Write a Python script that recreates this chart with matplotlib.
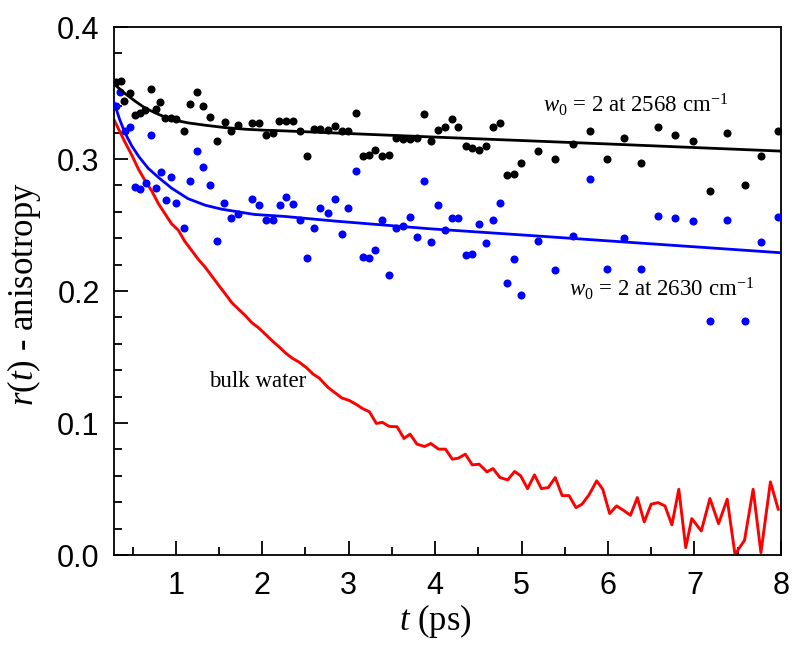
import matplotlib
matplotlib.use("Agg")
import matplotlib.pyplot as plt
from matplotlib.ticker import MultipleLocator, FormatStrFormatter

# ---------------- data ----------------
black_t = [0.31, 0.37, 0.40, 0.47, 0.53, 0.58, 0.64, 0.71, 0.77, 0.82,
           0.88, 0.94, 1.00, 1.09, 1.16, 1.25, 1.32, 1.40, 1.48, 1.57,
           1.64, 1.72, 1.88, 1.96, 2.04, 2.12, 2.19, 2.28, 2.36, 2.44,
           2.52, 2.60, 2.67, 2.76, 2.84, 2.92, 2.99, 3.08, 3.16, 3.23,
           3.31, 3.39, 3.47, 3.55, 3.63, 3.71, 3.79, 3.87, 3.95, 4.03,
           4.11, 4.20, 4.27, 4.36, 4.43, 4.51, 4.59, 4.67, 4.75, 4.83,
           4.91, 4.99, 5.19, 5.39, 5.59, 5.79, 5.99, 6.19, 6.38, 6.58,
           6.78, 6.98, 7.18, 7.38, 7.58, 7.77, 7.97]
black_r = [0.358, 0.359, 0.344, 0.350, 0.333, 0.335, 0.337, 0.353, 0.338, 0.343,
           0.331, 0.331, 0.330, 0.321, 0.342, 0.351, 0.340, 0.332, 0.314, 0.328,
           0.321, 0.326, 0.327, 0.327, 0.318, 0.320, 0.329, 0.329, 0.329, 0.321,
           0.302, 0.323, 0.323, 0.322, 0.325, 0.321, 0.321, 0.335, 0.302, 0.303,
           0.307, 0.302, 0.303, 0.316, 0.315, 0.315, 0.316, 0.334, 0.314, 0.322,
           0.324, 0.330, 0.324, 0.310, 0.308, 0.307, 0.310, 0.324, 0.327, 0.288,
           0.289, 0.297, 0.306, 0.300, 0.311, 0.321, 0.300, 0.316, 0.297, 0.324,
           0.318, 0.314, 0.276, 0.320, 0.280, 0.302, 0.321]

blue_t = [0.31, 0.35, 0.41, 0.47, 0.53, 0.58, 0.65, 0.71, 0.77, 0.83,
          0.89, 0.94, 1.00, 1.09, 1.16, 1.25, 1.32, 1.40, 1.48, 1.56,
          1.64, 1.72, 1.88, 1.96, 2.04, 2.12, 2.20, 2.28, 2.36, 2.44,
          2.52, 2.60, 2.67, 2.76, 2.84, 2.92, 2.99, 3.08, 3.16, 3.23,
          3.31, 3.39, 3.47, 3.55, 3.63, 3.71, 3.79, 3.87, 3.95, 4.03,
          4.11, 4.20, 4.27, 4.36, 4.43, 4.51, 4.59, 4.67, 4.75, 4.83,
          4.91, 4.99, 5.19, 5.39, 5.59, 5.79, 5.99, 6.19, 6.38, 6.58,
          6.78, 6.98, 7.18, 7.38, 7.58, 7.77, 7.97]
blue_r = [0.340, 0.351, 0.321, 0.324, 0.279, 0.277, 0.282, 0.318, 0.278, 0.290,
          0.269, 0.286, 0.267, 0.248, 0.283, 0.306, 0.294, 0.280, 0.238, 0.267,
          0.255, 0.258, 0.270, 0.265, 0.254, 0.254, 0.265, 0.271, 0.266, 0.254,
          0.225, 0.248, 0.263, 0.259, 0.270, 0.243, 0.263, 0.291, 0.226, 0.225,
          0.231, 0.254, 0.212, 0.248, 0.249, 0.256, 0.241, 0.283, 0.237, 0.265,
          0.246, 0.255, 0.255, 0.227, 0.228, 0.251, 0.236, 0.254, 0.267, 0.206,
          0.224, 0.197, 0.238, 0.216, 0.242, 0.285, 0.217, 0.240, 0.217, 0.257,
          0.255, 0.253, 0.177, 0.254, 0.177, 0.237, 0.256]

red_t = [0.29, 0.35, 0.41, 0.49, 0.57, 0.65, 0.72, 0.80, 0.88, 0.95,
         1.03, 1.10, 1.18, 1.26, 1.34, 1.42, 1.50, 1.57, 1.65, 1.73,
         1.81, 1.88, 1.96, 2.04, 2.12, 2.19, 2.27, 2.35, 2.43, 2.51,
         2.59, 2.66, 2.76, 2.84, 2.92, 3.01, 3.09, 3.16, 3.24, 3.32,
         3.39, 3.47, 3.56, 3.64, 3.71, 3.79, 3.88, 3.95, 4.04, 4.12,
         4.20, 4.27, 4.35, 4.43, 4.51, 4.60, 4.67, 4.75, 4.84, 4.92,
         4.99, 5.07, 5.15, 5.23, 5.31, 5.39, 5.47, 5.55, 5.63, 5.70,
         5.78, 5.87, 5.94, 6.02, 6.10, 6.19, 6.26, 6.34, 6.42, 6.50,
         6.58, 6.66, 6.74, 6.82, 6.90, 6.97, 7.08, 7.18, 7.28, 7.38,
         7.47, 7.58, 7.68, 7.77, 7.88, 7.97]
red_r = [0.329, 0.321, 0.313, 0.303, 0.292, 0.283, 0.276, 0.266, 0.258, 0.251,
         0.246, 0.238, 0.231, 0.224, 0.218, 0.211, 0.204, 0.198, 0.191, 0.186,
         0.181, 0.176, 0.172, 0.167, 0.162, 0.158, 0.153, 0.149, 0.146, 0.142,
         0.137, 0.134, 0.127, 0.123, 0.119, 0.117, 0.114, 0.111, 0.1085, 0.0997,
         0.1005, 0.0974, 0.0972, 0.0883, 0.0916, 0.0840, 0.0822, 0.0845, 0.0802, 0.0802,
         0.0726, 0.0734, 0.0764, 0.0683, 0.0688, 0.0630, 0.0655, 0.0587, 0.0569, 0.0633,
         0.0600, 0.0503, 0.0607, 0.0503, 0.0511, 0.0587, 0.0450, 0.0450, 0.0359, 0.0385,
         0.0455, 0.0562, 0.0498, 0.0314, 0.0372, 0.0334, 0.0301, 0.0435, 0.0251, 0.0385,
         0.0397, 0.0372, 0.0228, 0.0498, 0.0056, 0.0276, 0.0182, 0.0428, 0.0238, 0.0423,
         0.0005, 0.0111, 0.0498, 0.0018, 0.0554, 0.0347]

black_fit_t = [0.28, 0.30, 0.41, 0.53, 0.64, 0.76, 0.87, 0.99, 1.14, 1.34,
               1.57, 1.80, 2.03, 2.26, 3.0, 4.0, 5.0, 6.0, 7.0, 8.0]
black_fit_r = [0.357, 0.356, 0.3497, 0.3438, 0.3388, 0.3350, 0.3319, 0.3294, 0.3274, 0.3256,
               0.3238, 0.3226, 0.3218, 0.3213, 0.3193, 0.3166, 0.3140, 0.3114, 0.3087, 0.3060]

blue_fit_t = [0.28, 0.35, 0.41, 0.49, 0.57, 0.68, 0.80, 0.95, 1.14, 1.34,
              1.53, 1.72, 1.91, 2.26, 2.84, 3.93, 5.0, 6.0, 7.0, 8.0]
blue_fit_r = [0.344, 0.330, 0.320, 0.310, 0.302, 0.293, 0.286, 0.278, 0.270, 0.265,
              0.262, 0.260, 0.258, 0.2565, 0.253, 0.2472, 0.2425, 0.2380, 0.2335, 0.2290]

x_ticks = [1, 2, 3, 4, 5, 6, 7, 8]
y_ticks = [0.0, 0.1, 0.2, 0.3, 0.4]

label_black = r"$w_0$ = 2 at 2568 cm$^{-1}$"
label_blue = r"$w_0$ = 2 at 2630 cm$^{-1}$"
label_red = "bulk water"

# ---------------- style ----------------
plt.rcParams["mathtext.fontset"] = "custom"
plt.rcParams["mathtext.rm"] = "Liberation Serif"
plt.rcParams["mathtext.it"] = "Liberation Serif:italic"
plt.rcParams["mathtext.bf"] = "Liberation Serif:bold"

fig = plt.figure(figsize=(8, 6.48), dpi=100)
ax = fig.add_axes([0.142, 0.1435, 0.834, 0.8148])

ax.plot(red_t, red_r, color="#ff0000", lw=2.1, zorder=2)
ax.plot(blue_t, blue_r, "o", color="#0000ff", ms=5.8, mec="none", zorder=3)
ax.plot(black_t, black_r, "o", color="#000000", ms=5.8, mec="none", zorder=3)
ax.plot(blue_fit_t, blue_fit_r, color="#0000ff", lw=2.0, zorder=4)
ax.plot(black_fit_t, black_fit_r, color="#000000", lw=2.0, zorder=4)

ax.set_xlim(0.28, 8.0)
ax.set_ylim(0.0, 0.4)
ax.set_xticks(x_ticks)
ax.set_yticks(y_ticks)
ax.xaxis.set_minor_locator(MultipleLocator(0.5))
ax.yaxis.set_minor_locator(MultipleLocator(0.02))
ax.yaxis.set_major_formatter(FormatStrFormatter("%.1f"))

for s in ax.spines.values():
    s.set_linewidth(1.3)

ax.tick_params(which="both", direction="in", top=False, right=False, width=1.3)
ax.tick_params(which="major", length=10)
ax.tick_params(which="minor", length=5.5)
ax.tick_params(axis="y", which="major", pad=10)
ax.tick_params(axis="x", which="major", pad=11.5)
for lab in ax.get_xticklabels() + ax.get_yticklabels():
    lab.set_fontfamily("Liberation Sans")
    lab.set_fontsize(22)

ax.set_xlabel(r"$t$ (ps)", fontfamily="Liberation Serif", fontsize=25)
ax.set_ylabel(r"$r(t)$ - anisotropy", fontfamily="Liberation Serif", fontsize=25)
ax.xaxis.set_label_coords(0.483, -0.089)
ax.yaxis.set_label_coords(-0.1058, 0.495)

ax.text(5.25, 0.3357, label_black, fontfamily="Liberation Serif", fontsize=16.5,
        ha="left", va="baseline")
ax.text(5.55, 0.196, label_blue, fontfamily="Liberation Serif", fontsize=16.5,
        ha="left", va="baseline")
ax.text(1.38, 0.1275, label_red, fontfamily="Liberation Serif", fontsize=16.5,
        ha="left", va="baseline")

fig.savefig("out.png", dpi=100)
